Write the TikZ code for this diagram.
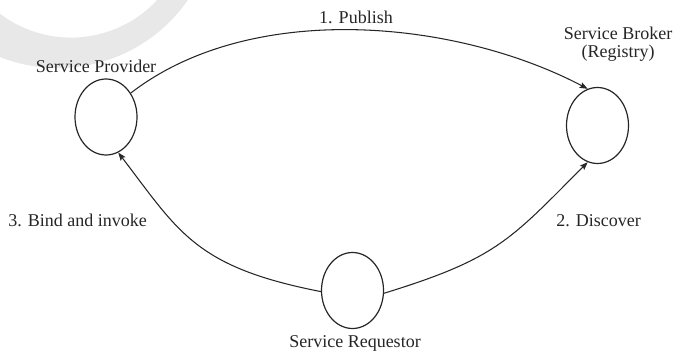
\documentclass[tikz,border=0pt]{standalone}
\usepackage{fontspec}
\setmainfont{Liberation Serif}
\usetikzlibrary{shapes.geometric,arrows.meta}

\definecolor{ink}{HTML}{262626}
\definecolor{wmgray}{HTML}{E8E8E8}

\tikzset{
  role/.style={ellipse, draw=ink, line width=1.2pt, minimum width=62pt,
    minimum height=76pt, inner sep=0pt},
  caption/.style={anchor=base, inner sep=0pt, text=ink,
    font=\fontsize{18}{18}\selectfont, align=center},
  flow/.style={draw=ink, line width=1.05pt,
    -{Stealth[length=8pt,width=6pt,inset=1.5pt]}}
}

\begin{document}
\begin{tikzpicture}[x=1pt, y=-1pt]
  \useasboundingbox (0,0) rectangle (676,351);
  \fill[white] (0,0) rectangle (676,351);

  % faint ring in the upper left corner
  \begin{scope}
    \clip (0,0) rectangle (676,351);
    \fill[wmgray, even odd rule] (58,-90) circle (158pt) (71,-80) circle (117.6pt);
  \end{scope}

  % the three roles
  \node[role] (prov) at (106,117) {};
  \node[role] (broker) at (597.5,125.5) {};
  \node[role] (req) at (352.5,290.5) {};

  % their names
  \node[caption] (provname) at (96,72.5) {Service Provider};
  \node[caption] (brokername) at (618,57) {Service Broker\\(Registry)};
  \node[caption] (reqname) at (355,347) {Service Requestor};

  % interactions
  \draw[flow] (prov.44.5) .. controls (251,0) and (456,19.5) .. (broker.105);
  \draw[flow] (req.355) .. controls (497,258.5) and (510,240) .. (broker.255);
  \draw[flow] (req.182) .. controls (195,267) and (179,232) .. (prov.289);

  \node[caption] (publish) at (356,23) {1. Publish};
  \node[caption] (discover) at (598.5,226) {2. Discover};
  \node[caption] (bind) at (77.5,226) {3. Bind and invoke};
\end{tikzpicture}
\end{document}
